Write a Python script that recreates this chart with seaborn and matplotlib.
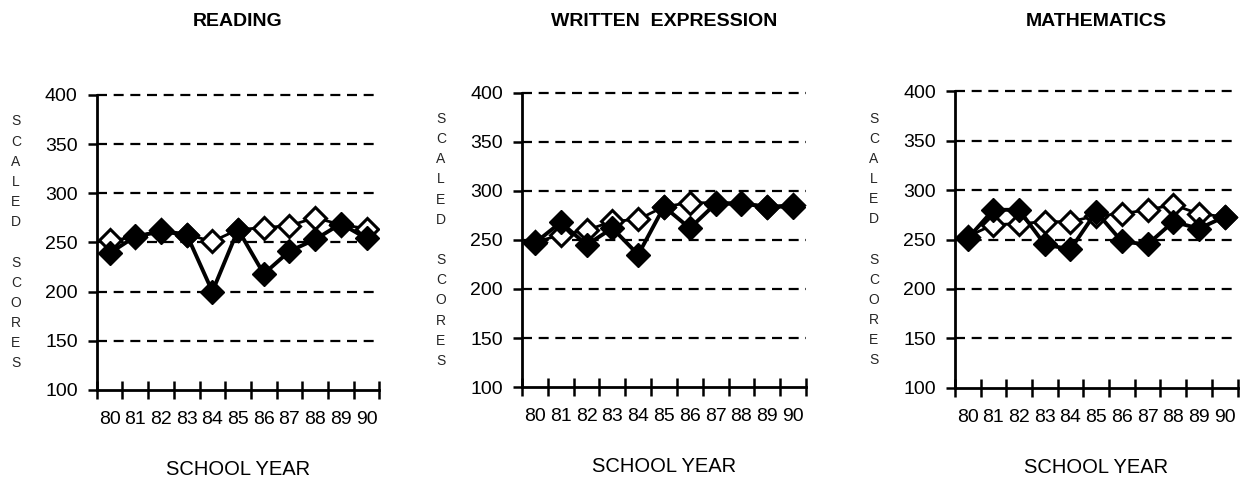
import matplotlib
matplotlib.use("Agg")
import matplotlib.pyplot as plt
import seaborn as sns
import pandas as pd
from matplotlib import font_manager

years = [80, 81, 82, 83, 84, 85, 86, 87, 88, 89, 90]
year_labels = ["80", "81", "82", "83", "84", "85", "86", "87", "88", "89", "90"]
y_ticks = [100, 150, 200, 250, 300, 350, 400]
titles = ["READING", "WRITTEN  EXPRESSION", "MATHEMATICS"]

# filled diamonds / open diamonds
reading_filled = [239, 256, 261, 258, 200, 263, 218, 241, 253, 269, 254]
reading_open = [252, 255, 263, 258, 251, 263, 265, 267, 275, 268, 264]
written_filled = [247, 268, 245, 262, 235, 284, 262, 287, 287, 284, 284]
written_open = [248, 255, 260, 269, 271, 284, 288, 288, 288, 284, 286]
math_filled = [251, 280, 280, 245, 240, 278, 248, 245, 268, 261, 273]
math_open = [253, 265, 266, 268, 268, 274, 276, 280, 285, 276, 273]

filled = [reading_filled, written_filled, math_filled]
opened = [reading_open, written_open, math_open]

sns.set_style("white")
names = {f.name for f in font_manager.fontManager.ttflist}
tick_font = "Liberation Sans Narrow" if "Liberation Sans Narrow" in names else "Liberation Sans"
plt.rcParams["font.family"] = ["Liberation Sans", "DejaVu Sans"]
plt.rcParams["text.color"] = "black"
plt.rcParams["xtick.color"] = "black"
plt.rcParams["ytick.color"] = "black"

fig = plt.figure(figsize=(12.4, 4.79), dpi=100)
# axes boxes in figure fraction (left, bottom, width, height)
boxes = [[0.078, 0.186, 0.228, 0.616],
         [0.421, 0.192, 0.229, 0.614],
         [0.770, 0.190, 0.228, 0.620]]

ylabel = "\n".join(list("SCALED") + [""] + list("SCORES"))

for i in range(3):
    ax = fig.add_axes(boxes[i])
    df = pd.DataFrame({"year": years, "open": opened[i], "filled": filled[i]})

    sns.lineplot(data=df, x="year", y="open", ax=ax, color="black", lw=2,
                 marker="D", markersize=11, markerfacecolor="white",
                 markeredgecolor="black", markeredgewidth=2.2, zorder=3)
    sns.lineplot(data=df, x="year", y="filled", ax=ax, color="black", lw=2.8,
                 marker="D", markersize=12, markerfacecolor="black",
                 markeredgecolor="black", markeredgewidth=1, zorder=4)

    ax.set_xlim(79.5, 90.5)
    ax.set_ylim(100, 400)
    ax.set_xticks(years)
    ax.set_xticklabels(year_labels, fontsize=14, family=tick_font)
    ax.set_xticks([79.5 + k for k in range(12)], minor=True)
    ax.tick_params(axis="x", which="both", bottom=True)
    ax.tick_params(axis="x", which="major", length=0, pad=15)
    ax.tick_params(axis="x", which="minor", direction="inout", length=13, width=1.8, color="black")
    ax.set_yticks(y_ticks)
    ax.set_yticklabels([str(v) for v in y_ticks], fontsize=14)
    ax.tick_params(axis="y", left=True, direction="out", length=6.7, width=1.8, pad=7, color="black")

    for v in y_ticks[1:]:
        ax.axhline(v, color="black", lw=1.6, linestyle=(0, (4.5, 3)), zorder=1, clip_on=False)

    for s in ["top", "right"]:
        ax.spines[s].set_visible(False)
    for s in ["left", "bottom"]:
        ax.spines[s].set_linewidth(2)
        ax.spines[s].set_color("black")

    ax.set_xlabel("")
    ax.set_ylabel(ylabel, rotation=0, fontsize=10, linespacing=1.56, va="center", ha="center")
    ax.yaxis.set_label_coords(-0.286, 0.5)
    ax.text(0.5, -0.237, "SCHOOL YEAR", transform=ax.transAxes, ha="center", va="top", fontsize=14.5)

    b = boxes[i]
    fig.text(b[0] + b[2] / 2, 0.955, titles[i], ha="center", va="center",
             fontsize=14, fontweight="bold")

fig.savefig("out.png", dpi=100)
